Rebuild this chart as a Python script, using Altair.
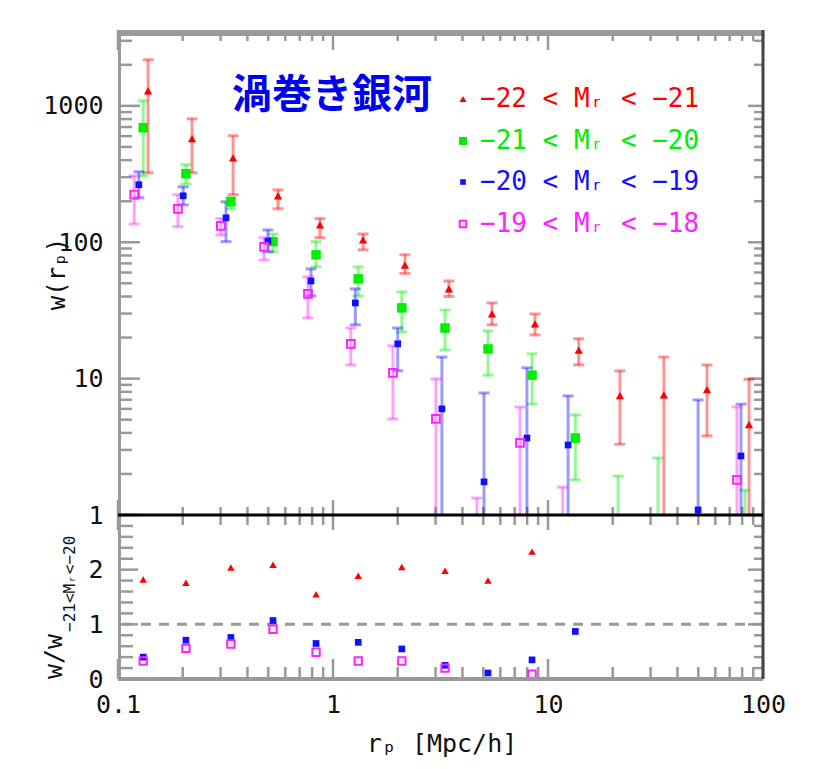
import altair as alt
import pandas as pd

# ---------------- data ----------------
title_text = "渦巻き銀河"
series_labels = ["−22 < Mᵣ < −21", "−21 < Mᵣ < −20", "−20 < Mᵣ < −19", "−19 < Mᵣ < −18"]
series_colors = ["#ff0000", "#00ee00", "#1010ff", "#ff22ff"]

# top panel: w(r_p), value + error bar ends (0.1 = bar runs below the axis)
r_m22 = [0.138, 0.221, 0.343, 0.555, 0.870, 1.38, 2.16, 3.46, 5.49, 8.70, 13.9, 21.6, 34.6, 54.9, 86.1]
w_m22 = [1290, 574, 416, 219, 134, 104, 68, 45.5, 29.8, 25.2, 16.2, 7.5, 7.6, 8.3, 4.6]
hi_m22 = [2180, 804, 604, 242, 149, 115, 81, 52, 35.9, 29.8, 19.6, 11.4, 14.4, 12.6, 9.9]
lo_m22 = [323, 323, 223, 176, 108, 88, 59, 40, 24.8, 20.9, 12.6, 3.3, 0.1, 3.8, 0.1]

r_m21 = [0.131, 0.207, 0.335, 0.526, 0.834, 1.31, 2.09, 3.32, 5.26, 8.43, 13.4, 21.2, 32.5, 82.4]
w_m21 = [691, 318, 198, 101, 80.8, 53.9, 33, 23.5, 16.5, 10.6, 3.67, None, None, None]
hi_m21 = [1090, 370, 212, 115, 101, 66, 43.3, 31.9, 22.4, 15.2, 5.42, 1.93, 2.62, 1.52]
lo_m21 = [307, 268, 176, 85, 66, 40.4, 22, 16.2, 10.6, 6.5, 1.81, 0.1, 0.1, 0.1]

r_m20 = [0.125, 0.201, 0.318, 0.498, 0.79, 1.27, 2.0, 3.21, 5.04, 7.98, 12.4, 49.9, 79.0]
w_m20 = [264, 219, 151, 102, 52, 35.9, 18, 6.0, 1.75, 3.67, 3.26, 1.09, 2.71]
hi_m20 = [329, 255, 198, 123, 63.8, 45.5, 23.5, 14.4, 7.85, 12.0, 7.47, 6.98, 6.5]
lo_m20 = [212, 188, 101, 85, 40.4, 24.8, 11.4, 0.1, 0.1, 0.1, 0.1, 0.1, 0.1]

r_m19 = [0.119, 0.19, 0.301, 0.478, 0.765, 1.21, 1.9, 3.01, 4.67, 7.41, 11.7, 75.7]
w_m19 = [223, 176, 132, 92.5, 41.8, 18, 11, 5.06, None, 3.38, None, 1.81]
hi_m19 = [307, 223, 149, 108, 55.7, 23.5, 17.4, 9.95, 1.33, 6.2, 1.6, 6.2]
lo_m19 = [136, 130, 113, 74, 27.9, 12.6, 5.06, 0.1, 0.1, 0.1, 0.1, 0.1]

# bottom panel: ratio w / w(-21<Mr<-20)
ratio_r = [0.131, 0.207, 0.335, 0.526, 0.834, 1.31, 2.09, 3.32, 5.26, 8.43, 13.4]
ratio_m22 = [1.82, 1.76, 2.04, 2.09, 1.55, 1.89, 2.05, 1.98, 1.80, 2.33, None]
ratio_m20 = [0.40, 0.71, 0.76, 1.07, 0.65, 0.67, 0.55, 0.25, 0.11, 0.35, 0.87]
ratio_m19 = [0.33, 0.56, 0.64, 0.91, 0.49, 0.33, 0.33, 0.20, None, 0.09, None]
ratio_ref = [1]

# tick marks
x_major = [0.1, 1, 10, 100]
x_minor = [0.2, 0.3, 0.4, 0.5, 0.6, 0.7, 0.8, 0.9, 2, 3, 4, 5, 6, 7, 8, 9,
           20, 30, 40, 50, 60, 70, 80, 90]
y_top_major = [1, 10, 100, 1000]
y_top_minor = [2, 3, 4, 5, 6, 7, 8, 9, 20, 30, 40, 50, 60, 70, 80, 90,
               200, 300, 400, 500, 600, 700, 800, 900, 2000, 3000]
y_bot_major = [0, 1, 2, 3]
y_bot_minor = [0.2, 0.4, 0.6, 0.8, 1.2, 1.4, 1.6, 1.8, 2.2, 2.4, 2.6, 2.8]
y_bot_labels = [0, 1, 2]

x_title = "rₚ [Mpc/h]"
y_top_title = "w(rₚ)"
y_bot_title = "w/w"
y_bot_sub = "−21<Mᵣ<−20"

# ---------------- styling ----------------
MONO = "DejaVu Sans Mono"
W, H_TOP, H_BOT = 645, 485, 164
GRAY = "#999999"
DARK = "#444444"
LABEL = dict(labelFont=MONO, labelFontSize=25, labelColor="#111111", labelFlush=False,
             labelOverlap=False, ticks=False, domain=False, grid=False, title=None)

XS = alt.Scale(type="log", domain=[0.1, 100], nice=False)
YS_TOP = alt.Scale(type="log", domain=[1, 3600], nice=False)
YS_BOT = alt.Scale(type="linear", domain=[0, 3], nice=False, zero=False)

AX_X_TOP = None
AX_Y_TOP = alt.Axis(values=y_top_major, format="~g", labelPadding=15, **LABEL)
AX_X_BOT = alt.Axis(values=x_major, format="~g", labelPadding=13, **LABEL)
AX_Y_BOT = alt.Axis(values=y_bot_labels, format="d", labelPadding=15, **LABEL)


def make_enc(panel):
    if panel == "top":
        xs, ys, ax, ay = XS, YS_TOP, AX_X_TOP, AX_Y_TOP
    else:
        xs, ys, ax, ay = XS, YS_BOT, AX_X_BOT, AX_Y_BOT

    def xenc(field):
        return alt.X(f"{field}:Q", scale=xs, axis=ax)

    def yenc(field):
        return alt.Y(f"{field}:Q", scale=ys, axis=ay)
    return xenc, yenc


def vals(v):
    return pd.DataFrame({"v": v})


SHAPES = [("triangle-up", 70, True), ("square", 90, True), ("square", 45, True), ("square", 60, False)]


def text_layer(t, x, y, **kw):
    return alt.Chart(pd.DataFrame({"t": [t]})).mark_text(**kw).encode(
        x=alt.value(x), y=alt.value(y), text="t:N")


def panel_layers(panel):
    xenc, yenc = make_enc(panel)

    def xticks(v, y0, y1, color=GRAY, width=2.5):
        return alt.Chart(vals(v)).mark_rule(color=color, strokeWidth=width).encode(
            x=xenc("v"), y=alt.value(y0), y2=alt.value(y1))

    def yticks(v, x0, x1, color=GRAY, width=2.5):
        return alt.Chart(vals(v)).mark_rule(color=color, strokeWidth=width).encode(
            y=yenc("v"), x=alt.value(x0), x2=alt.value(x1))

    def err_layers(r, lo, hi, color):
        df = pd.DataFrame({"r": r, "lo": lo, "hi": hi})
        base = alt.Chart(df)
        out = [base.mark_rule(color=color, opacity=0.42, strokeWidth=3, clip=True).encode(
            x=xenc("r"), y=yenc("lo"), y2="hi:Q")]
        for f in ("lo", "hi"):
            out.append(base.mark_tick(orient="horizontal", color=color, opacity=0.42,
                                      size=11, thickness=3, clip=True).encode(
                x=xenc("r"), y=yenc(f)))
        return out

    def points(r, w, i, size_scale=1.0):
        shape, size, filled = SHAPES[i]
        df = pd.DataFrame({"r": r, "w": w})
        return alt.Chart(df).mark_point(shape=shape, size=size * size_scale, filled=filled,
                                        color=series_colors[i], opacity=1, strokeWidth=2,
                                        clip=True).encode(x=xenc("r"), y=yenc("w"))

    return xticks, yticks, err_layers, points


# ---------------- top panel ----------------
xticks, yticks, err_layers, points = panel_layers("top")
top_series = [(r_m22, w_m22, lo_m22, hi_m22), (r_m21, w_m21, lo_m21, hi_m21),
              (r_m20, w_m20, lo_m20, hi_m20), (r_m19, w_m19, lo_m19, hi_m19)]

top_layers = [
    yticks(y_top_major, 0, 22), yticks(y_top_minor, 0, 14),
    yticks(y_top_major, W - 15, W), yticks(y_top_minor, W - 9, W),
    xticks(x_major, 0, 20), xticks(x_minor, 0, 11),
    xticks(x_major, H_TOP - 15, H_TOP), xticks(x_minor, H_TOP - 8, H_TOP),
]
for i, (r, w, lo, hi) in enumerate(top_series):
    top_layers += err_layers(r, lo, hi, series_colors[i])
for i, (r, w, lo, hi) in enumerate(top_series):
    top_layers.append(points(r, w, i))

top_layers += [
    alt.Chart().mark_rule(color=GRAY, strokeWidth=6).encode(x=alt.value(0), x2=alt.value(W), y=alt.value(3)),
    alt.Chart().mark_rule(color=GRAY, strokeWidth=3).encode(x=alt.value(1.5), y=alt.value(0), y2=alt.value(H_TOP)),
    alt.Chart().mark_rule(color=DARK, strokeWidth=3).encode(x=alt.value(W), y=alt.value(0), y2=alt.value(H_TOP)),
]

top_layers.append(text_layer(title_text, 114, 66, font="Noto Sans CJK JP", fontSize=40,
                             fontWeight="bold", color="#0000f0", align="left", baseline="middle"))
legend_rows_y = [69, 111, 152, 194]
for i, lab in enumerate(series_labels):
    shape, size, filled = SHAPES[i]
    ldf = pd.DataFrame({"t": [lab]})
    top_layers.append(alt.Chart(ldf).mark_point(shape=shape, size=size * 0.7, filled=filled,
                                                color=series_colors[i], opacity=1, strokeWidth=2).encode(
        x=alt.value(345), y=alt.value(legend_rows_y[i])))
    top_layers.append(alt.Chart(ldf).mark_text(font=MONO, fontSize=26, color=series_colors[i],
                                               align="left", baseline="middle").encode(
        x=alt.value(362), y=alt.value(legend_rows_y[i]), text="t:N"))
top_layers.append(text_layer(y_top_title, -53, 244, font=MONO, fontSize=24, angle=270,
                             align="center", baseline="alphabetic", color="#111111"))

top = alt.layer(*top_layers).properties(width=W, height=H_TOP)

# ---------------- bottom panel ----------------
xticks, yticks, err_layers, points = panel_layers("bot")
xenc_b, yenc_b = make_enc("bot")
bot_layers = [
    yticks(y_bot_major, 0, 20), yticks(y_bot_minor, 0, 15),
    yticks(y_bot_major, W - 15, W), yticks(y_bot_minor, W - 9, W),
    xticks(x_major, H_BOT - 20, H_BOT), xticks(x_minor, H_BOT - 12, H_BOT),
    xticks(x_major, 0, 15), xticks(x_minor, 0, 10),
    alt.Chart(vals(ratio_ref)).mark_rule(color=GRAY, strokeWidth=3, strokeDash=[10, 8]).encode(
        y=yenc_b("v")),
    points(ratio_r, ratio_m22, 0, 0.8),
    points(ratio_r, ratio_m20, 2, 1.0),
    points(ratio_r, ratio_m19, 3, 0.9),
    alt.Chart().mark_rule(color=GRAY, strokeWidth=4).encode(x=alt.value(0), x2=alt.value(W), y=alt.value(H_BOT)),
    alt.Chart().mark_rule(color=GRAY, strokeWidth=3).encode(x=alt.value(1.5), y=alt.value(0), y2=alt.value(H_BOT)),
    alt.Chart().mark_rule(color=DARK, strokeWidth=3).encode(x=alt.value(W), y=alt.value(0), y2=alt.value(H_BOT)),
    alt.Chart().mark_rule(color="#000000", strokeWidth=3).encode(x=alt.value(0), x2=alt.value(W), y=alt.value(0)),
    text_layer(y_bot_title, -56, H_BOT, font=MONO, fontSize=25, angle=270,
               align="left", baseline="alphabetic", color="#111111"),
    text_layer(y_bot_sub, -43, H_BOT - 47, font=MONO, fontSize=16, angle=270,
               align="left", baseline="alphabetic", color="#111111"),
    text_layer(x_title, 324, 237, font=MONO, fontSize=25, align="center",
               baseline="alphabetic", color="#111111"),
]
bottom = alt.layer(*bot_layers).properties(width=W, height=H_BOT)

chart = alt.VConcatChart(vconcat=[top, bottom], spacing=0, bounds="flush").properties(
    padding={"left": 34, "top": 20, "right": 5, "bottom": 5}, background="white"
).configure_view(stroke=None).configure_axis(grid=False)

chart.save("out.html", embed_options={"renderer": "svg", "actions": False})
